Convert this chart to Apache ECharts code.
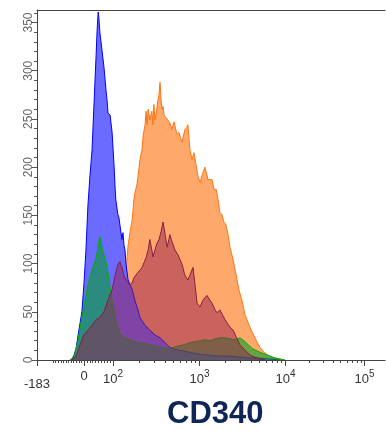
<!DOCTYPE html>
<html><head><meta charset="utf-8">
<script src="https://cdn.jsdelivr.net/npm/echarts@6/dist/echarts.min.js"></script>
<style>html,body{margin:0;padding:0;background:#fff}#c{width:386px;height:431px}</style>
</head><body><div id="c"></div>
<script>
// Histogram data on a 0..1024 display-channel (biexponential) scale
const orangeCh = [238,247,256,262,268,274,280,285,288,294,297,303,309,312,318,321,324,327,332,338,341,344,347,350,356,359,362,365,368,371,374,380,385,391,397,403,406,412,418,421,427,430,435,441,444,450,456,462,468,474,480,486,491,494,500,503,509,515,521,527,533,538,544,550,556,562,568,577,586,594,603,612,621,630,639,647,656,668,680,691,703,715,730];
const orangeCount = [0,21,62,93,119,133,145,166,173,182,189,208,218,232,244,258,244,260,249,258,244,265,249,254,270,275,288,270,260,263,254,251,249,246,239,247,246,234,236,232,226,228,239,241,244,218,208,215,202,190,184,192,197,200,192,187,187,187,177,177,166,153,151,143,140,130,117,104,88,73,62,47,39,31,25,19,13,8,5,3,2,1,0];

const blueCh = [97,103,109,115,121,127,132,138,144,150,156,162,168,174,177,180,182,185,191,197,203,206,209,212,215,218,221,224,227,230,232,238,241,244,250,253,256,259,262,268,274,280,288,297,303,318,332,347,362,377,391,406,421,450,480,509,538,568,597,627,656,686,715];
const blueCount = [0,1,5,12,26,39,50,78,114,161,192,218,268,317,343,361,355,340,322,304,280,270,256,256,254,253,236,218,200,177,166,151,148,140,125,132,119,114,99,83,78,73,62,52,44,36,31,26,23,18,13,11,10,8,6,5,4,4,3,2,2,1,0];

const greenCh = [97,109,121,132,141,150,156,165,171,177,180,185,188,194,200,206,212,215,221,227,232,238,244,259,274,288,303,332,362,391,421,435,450,465,480,494,509,524,538,553,568,583,597,609,621,633,644,656,671,686,700,715,730];
const greenCount = [0,3,21,44,62,78,86,97,102,111,119,128,123,112,106,97,83,76,62,52,42,33,28,23,21,19,18,16,13,12,15,16,18,19,20,21,20,22,23,23,22,21,23,20,16,12,10,8,6,4,2,1,0];

const redCh = [103,115,127,138,150,162,174,185,197,209,221,230,238,244,250,256,262,268,274,280,285,291,297,303,309,315,321,327,332,338,341,347,353,359,365,371,377,383,388,391,397,406,415,421,427,435,444,450,459,465,471,480,488,500,509,515,524,530,538,547,553,562,568,577,586,597,612,627,641,656,671];
const redCount = [0,4,16,26,31,36,42,44,50,62,73,88,99,102,96,88,83,80,78,80,85,88,91,93,96,101,106,114,125,114,107,114,121,125,133,143,130,117,125,130,123,114,109,104,99,88,83,88,96,78,59,55,62,67,62,59,52,49,52,46,42,37,34,31,24,16,10,5,3,1,0];

// Axis ticks (data values) and labels
const xTickValues = [-183, 0, 100, 1000, 10000, 100000];
const xTickLabels = ['-183', '0', '10^2', '10^3', '10^4', '10^5'];
const xMinorValues = [-120,-110,-100,-90,-80,-70,-60,-50,-40,-30,-20,-10,10,20,30,40,50,60,70,80,90,
  200,300,400,500,600,700,800,900,2000,3000,4000,5000,6000,7000,8000,9000,
  20000,30000,40000,50000,60000,70000,80000,90000];
const yTickValues = [0,50,100,150,200,250,300,350];
const yMinorValues = [10,20,30,40,60,70,80,90,110,120,130,140,160,170,180,190,210,220,230,240,260,270,280,290,310,320,330,340,360];
const titleText = 'CD340';

// Display transform calibration (value -> channel)
const calib = [[-183,0],[0,138.3],[100,223.6],[1000,478.2],[10000,731.2],[100000,963.7]];
function toChannel(v){
  if (v <= 0) return calib[1][1] * (v - calib[0][0]) / (calib[1][0] - calib[0][0]);
  if (v <= 100) return calib[1][1] + (calib[2][1]-calib[1][1]) * v / 100;
  for (let i = 2; i < calib.length - 1; i++) {
    if (v <= calib[i+1][0] || i === calib.length - 2) {
      const a = calib[i], b = calib[i+1];
      return a[1] + (b[1]-a[1]) * (Math.log10(v) - Math.log10(a[0])) / (Math.log10(b[0]) - Math.log10(a[0]));
    }
  }
}
const majorCh = xTickValues.map(toChannel);
const minorCh = xMinorValues.map(toChannel);

function pairs(xs, ys){ return xs.map((x,i)=>[x, ys[i]]); }
function labelIndex(v){
  const val = (typeof v === 'object' && v) ? v.value : Number(v);
  let best=0, d=1e9;
  majorCh.forEach((c,i)=>{ if(Math.abs(c-val)<d){d=Math.abs(c-val);best=i;} });
  return best;
}
function labelFor(v){
  const lab = xTickLabels[labelIndex(v)];
  if (lab.indexOf('^')>0){ const p=lab.split('^'); return '{b|'+p[0]+'}{s|'+p[1]+'}'; }
  if (lab.charAt(0)==='-') return '{n|'+lab+'}';
  return '{b|'+lab+'}';
}

const FONT = "'Liberation Sans', Arial, sans-serif";
const RICH = {
  b:{fontFamily:FONT, fontSize:13, color:'#333', lineHeight:17, verticalAlign:'bottom'},
  s:{fontFamily:FONT, fontSize:10, color:'#333', lineHeight:17, verticalAlign:'top'},
  n:{fontFamily:FONT, fontSize:13, color:'#333', lineHeight:17, padding:[13,0,0,0]}
};
const chart = echarts.init(document.getElementById('c'), null, {renderer:'canvas'});

function mk(name, xs, ys, line, fill, z){
  return {
    name, type:'line', data: pairs(xs, ys), symbol:'none', smooth:false, z:z,
    xAxisIndex:0, yAxisIndex:0,
    lineStyle:{color:line, width:1}, areaStyle:{color:fill, opacity:1},
    itemStyle:{color:line}, animation:false, silent:true
  };
}

const labelA = [majorCh[0], majorCh[2], majorCh[3], majorCh[4], majorCh[5]];
const labelB = [majorCh[1]];

chart.setOption({
  animation:false,
  backgroundColor:'#fff',
  title:{text:titleText, left:167, top:399, padding:0,
    textStyle:{fontFamily:FONT, fontSize:31, fontWeight:'bold', color:'#0f2557'}},
  grid:{left:37, right:1, top:10, bottom:71, containLabel:false},
  xAxis:[
    {type:'value', position:'bottom', min:0, max:1024, z:20,
     axisLine:{show:true, onZero:false, lineStyle:{color:'#444', width:1}},
     axisTick:{show:true, customValues:majorCh, length:6, lineStyle:{color:'#444'}},
     axisLabel:{show:true, customValues:labelA, margin:9, fontFamily:FONT,
       showMinLabel:true, showMaxLabel:true, hideOverlap:false,
       formatter:labelFor, rich:RICH},
     splitLine:{show:false}},
    {type:'value', position:'bottom', min:0, max:1024, z:20,
     axisLine:{show:false, onZero:false},
     axisTick:{show:true, customValues:minorCh, length:3, lineStyle:{color:'#444'}},
     axisLabel:{show:true, customValues:labelB, margin:10, fontFamily:FONT,
       fontSize:13, color:'#333', showMinLabel:true, showMaxLabel:true, hideOverlap:false,
       formatter:function(v){ return xTickLabels[labelIndex(v)] + ''; }},
     splitLine:{show:false}},
    {type:'value', position:'top', min:0, max:1024, z:20,
     axisLine:{show:true, onZero:false, lineStyle:{color:'#444', width:1}},
     axisTick:{show:false}, axisLabel:{show:false}, splitLine:{show:false}}
  ],
  yAxis:[
    {type:'value', position:'left', min:0, max:363, z:20,
     axisLine:{show:true, onZero:false, lineStyle:{color:'#444', width:1}},
     axisTick:{show:true, customValues:yTickValues, length:5, lineStyle:{color:'#555'}},
     axisLabel:{show:true, customValues:yTickValues, rotate:90, margin:2,
       fontFamily:FONT, fontSize:12, color:'#666'},
     splitLine:{show:false}},
    {type:'value', position:'left', min:0, max:363, z:20,
     axisLine:{show:false, onZero:false},
     axisTick:{show:true, customValues:yMinorValues, length:3, lineStyle:{color:'#555'}},
     axisLabel:{show:false}, splitLine:{show:false}}
  ],
  series:[
    mk('orange', orangeCh, orangeCount, '#ff7410', 'rgba(255,110,10,0.6)', 2),
    mk('blue', blueCh, blueCount, '#0000ff', '#6b6bff', 3),
    mk('green', greenCh, greenCount, '#00b000', 'rgba(0,160,40,0.6)', 4),
    mk('red', redCh, redCount, '#8c1c3c', 'rgba(150,30,80,0.5)', 5)
  ]
});
</script></body></html>
